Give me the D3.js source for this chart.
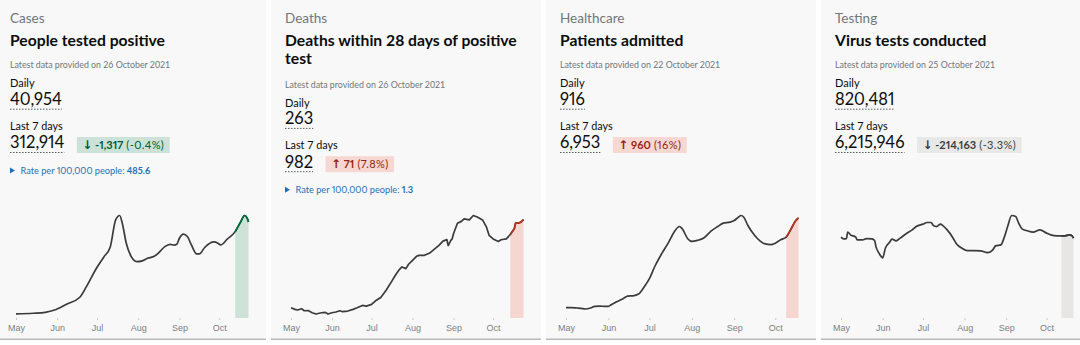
<!DOCTYPE html>
<html><head><meta charset="utf-8">
<script src="https://cdn.jsdelivr.net/npm/d3@7"></script>
<style>
html,body{margin:0;padding:0;background:#fff;}
svg{display:block;}
.num{font-variant-numeric:proportional-nums;}
</style></head><body>
<svg id="c" width="1080" height="345"></svg>
<script>
const categories = ["Cases","Deaths","Healthcare","Testing"];
const titles = [["People tested positive"],["Deaths within 28 days of positive","test"],["Patients admitted"],["Virus tests conducted"]];
const latestDates = ["26 October 2021","26 October 2021","22 October 2021","25 October 2021"];
const dailyValues = ["40,954","263","916","820,481"];
const weeklyValues = ["312,914","982","6,953","6,215,946"];
const changeValues = ["-1,317","71","960","-214,163"];
const changePercents = ["(-0.4%)","(7.8%)","(16%)","(-3.3%)"];
const changeDirections = ["down","up","up","down"];
const changeSentiments = ["good","bad","bad","neutral"];
const rateValues = ["485.6","1.3",null,null];
const shadeStarts = ["2021-10-13","2021-10-14","2021-10-09","2021-10-12"];

const casesSeries = [["2021-05-01",1900],["2021-05-14",2200],["2021-05-23",2650],["2021-05-30",3700],["2021-06-08",6400],["2021-06-18",9650],["2021-06-23",14600],["2021-07-01",23600],["2021-07-06",28300],["2021-07-11",33200],["2021-07-15",45700],["2021-07-18",47700],["2021-07-20",44100],["2021-07-23",34800],["2021-07-27",28300],["2021-07-31",26200],["2021-08-04",26600],["2021-08-08",27800],["2021-08-13",28700],["2021-08-16",30100],["2021-08-21",33200],["2021-08-25",34300],["2021-08-28",33900],["2021-08-30",34300],["2021-09-01",37100],["2021-09-04",39000],["2021-09-07",37900],["2021-09-10",34000],["2021-09-14",29800],["2021-09-16",29800],["2021-09-20",32800],["2021-09-27",35400],["2021-09-30",34800],["2021-10-02",34000],["2021-10-07",36700],["2021-10-13",40200],["2021-10-17",44600],["2021-10-20",47700],["2021-10-22",46500],["2021-10-23",44700]];

const deathsSeries = [["2021-05-01",14],["2021-05-04",11.8],["2021-05-06",10.9],["2021-05-09",12.7],["2021-05-11",9.9],["2021-05-14",10.2],["2021-05-17",7.2],["2021-05-20",5.4],["2021-05-24",7.2],["2021-05-27",7.7],["2021-05-29",5.4],["2021-06-01",7.2],["2021-06-04",8.2],["2021-06-07",9.9],["2021-06-09",8.6],["2021-06-13",9.5],["2021-06-17",11.8],["2021-06-20",14],["2021-06-24",17.2],["2021-06-27",16.3],["2021-07-01",18.6],["2021-07-04",23.5],["2021-07-08",28.1],["2021-07-12",38],["2021-07-16",49.3],["2021-07-19",58.4],["2021-07-22",66.2],["2021-07-24",69.7],["2021-07-27",67.4],["2021-07-29",73.4],["2021-08-01",78.8],["2021-08-04",84.3],["2021-08-06",85.6],["2021-08-10",85.6],["2021-08-14",88.7],["2021-08-18",94.7],["2021-08-21",99.2],["2021-08-24",105],["2021-08-27",107],["2021-08-28",99],["2021-08-30",106],["2021-08-31",108],["2021-09-01",115],["2021-09-04",129.5],["2021-09-07",132],["2021-09-09",135.5],["2021-09-13",134],["2021-09-16",140],["2021-09-19",138],["2021-09-23",134],["2021-09-26",124],["2021-09-28",112.8],["2021-10-01",108],["2021-10-05",104.6],["2021-10-07",106.9],["2021-10-11",108],["2021-10-14",114],["2021-10-17",121.8],["2021-10-18",129.5],["2021-10-20",129.5],["2021-10-22",130.9],["2021-10-24",134.5]];

const healthcareSeries = [["2021-05-01",102],["2021-05-05",103],["2021-05-09",99],["2021-05-12",96],["2021-05-15",89],["2021-05-19",99],["2021-05-22",115],["2021-05-26",118],["2021-05-29",115],["2021-06-01",115],["2021-06-03",131],["2021-06-07",161],["2021-06-12",194],["2021-06-15",217],["2021-06-19",220],["2021-06-23",237],["2021-06-25",266],["2021-06-28",325],["2021-07-01",391],["2021-07-05",513],["2021-07-10",638],["2021-07-15",749],["2021-07-19",851],["2021-07-23",907],["2021-07-25",884],["2021-07-29",786],["2021-08-01",759],["2021-08-05",769],["2021-08-10",796],["2021-08-15",861],["2021-08-20",907],["2021-08-24",940],["2021-08-29",950],["2021-09-01",966],["2021-09-04",999],["2021-09-06",1016],["2021-09-08",999],["2021-09-11",917],["2021-09-16",818],["2021-09-20",762],["2021-09-23",737],["2021-09-28",727],["2021-10-01",742],["2021-10-05",776],["2021-10-09",802],["2021-10-12",868],["2021-10-16",966],["2021-10-18",993]];

const testingSeries = [["2021-05-01",899000],["2021-05-03",880000],["2021-05-05",883000],["2021-05-06",955000],["2021-05-08",925000],["2021-05-12",899000],["2021-05-13",869000],["2021-05-17",869000],["2021-05-20",883000],["2021-05-24",880000],["2021-05-26",861000],["2021-05-27",794000],["2021-05-29",727000],["2021-05-31",683000],["2021-06-01",668000],["2021-06-03",776000],["2021-06-06",839000],["2021-06-08",877000],["2021-06-11",858000],["2021-06-14",888000],["2021-06-18",932000],["2021-06-23",980000],["2021-06-26",1017000],["2021-07-01",1044000],["2021-07-04",1062000],["2021-07-07",1062000],["2021-07-09",1025000],["2021-07-11",1017000],["2021-07-14",1044000],["2021-07-16",1025000],["2021-07-19",980000],["2021-07-23",899000],["2021-07-26",824000],["2021-07-30",776000],["2021-08-03",750000],["2021-08-08",750000],["2021-08-13",746000],["2021-08-18",727000],["2021-08-22",758000],["2021-08-24",802000],["2021-08-28",813000],["2021-08-30",877000],["2021-09-02",1017000],["2021-09-05",1140000],["2021-09-08",1128000],["2021-09-10",1062000],["2021-09-13",988000],["2021-09-16",973000],["2021-09-21",955000],["2021-09-26",980000],["2021-10-01",944000],["2021-10-04",925000],["2021-10-09",913000],["2021-10-12",913000],["2021-10-14",913000],["2021-10-18",925000],["2021-10-20",913000],["2021-10-21",888000]];

const seriesList = [casesSeries, deathsSeries, healthcareSeries, testingSeries];
const curves = [d3.curveMonotoneX, d3.curveLinear, d3.curveMonotoneX, d3.curveMonotoneX];

const parse = d3.timeParse("%Y-%m-%d");
const svg = d3.select("#c");
const FONT = "Lato, 'Noto Sans', sans-serif";
const sentimentStyle = {
  good:    {bg:"#cce2d8", fg:"#005a30", line:"#00703c", fill:"#cde3d7"},
  bad:     {bg:"#f6d7d2", fg:"#942514", line:"#b9321d", fill:"#f6d6d0"},
  neutral: {bg:"#e8e8e7", fg:"#383f43", line:"#3b3b3b", fill:"#e7e6e4"}
};

categories.forEach((cat, i) => {
  const cx = -4 + 275 * i;
  const g = svg.append("g").attr("transform", `translate(${cx},0)`);
  g.append("rect").attr("x",0).attr("y",0).attr("width",270).attr("height",339).attr("fill","#f8f8f8");
  g.append("rect").attr("x",0).attr("y",338.5).attr("width",270).attr("height",1.5).attr("fill","#b8b9ba");
  const tx = 14;
  const extra = (titles[i].length - 1) * 19.2;
  g.append("text").attr("x",tx).attr("y",22.7).attr("font-family",FONT).attr("font-size",13.5).attr("fill","#6f777b").text(cat);
  titles[i].forEach((t, k) => {
    g.append("text").attr("x",tx).attr("y",46 + k*18.4).attr("font-family",FONT).attr("font-weight",700).attr("font-size",15.7).attr("fill","#0b0c0c").text(t);
  });
  g.append("text").attr("x",tx).attr("y",68.3+extra).attr("font-family",FONT).attr("font-size",8.8).attr("fill","#6f777b").text("Latest data provided on " + latestDates[i]);
  g.append("text").attr("x",tx).attr("y",87.3+extra).attr("font-family",FONT).attr("font-size",11).attr("fill","#0b0c0c").text("Daily");
  const dv = g.append("text").attr("class","num").attr("x",tx).attr("y",105+extra).attr("font-family",FONT).attr("font-size",16.5).attr("fill","#0b0c0c").text(dailyValues[i]);
  const dw = dv.node().getComputedTextLength();
  g.append("line").attr("x1",tx).attr("x2",tx+dw).attr("y1",109.2+extra).attr("y2",109.2+extra).attr("stroke","#505a5f").attr("stroke-width",1).attr("stroke-dasharray","1.5,1.5");
  g.append("text").attr("x",tx).attr("y",130+extra).attr("font-family",FONT).attr("font-size",10.8).attr("fill","#0b0c0c").text("Last 7 days");
  const wv = g.append("text").attr("class","num").attr("x",tx).attr("y",148.3+extra).attr("font-family",FONT).attr("font-size",16.5).attr("fill","#0b0c0c").text(weeklyValues[i]);
  const ww = wv.node().getComputedTextLength();
  g.append("line").attr("x1",tx).attr("x2",tx+ww).attr("y1",152.5+extra).attr("y2",152.5+extra).attr("stroke","#505a5f").attr("stroke-width",1).attr("stroke-dasharray","1.5,1.5");
  // badge
  const st = sentimentStyle[changeSentiments[i]];
  const bx = tx + ww + 12.5;
  const badge = g.append("g");
  const brect = badge.append("rect").attr("x",bx).attr("y",137+extra).attr("height",16).attr("fill",st.bg);
  const bt = badge.append("text").attr("class","num").attr("x",bx+5.5).attr("y",148.7+extra).attr("font-family",FONT).attr("font-size",11).attr("fill",st.fg);
  bt.append("tspan").attr("font-family","'DejaVu Sans', sans-serif").attr("font-size",12).attr("font-weight",700).text(changeDirections[i]==="up" ? "↑" : "↓");
  bt.append("tspan").attr("font-weight",700).text(" " + changeValues[i]);
  bt.append("tspan").attr("letter-spacing",0.4).text(" " + changePercents[i]);
  brect.attr("width", bt.node().getComputedTextLength() + 11);
  // rate
  if (rateValues[i]) {
    const ry = 174 + extra;
    g.append("path").attr("d",`M${tx},${ry-6.5} L${tx+5},${ry-3.5} L${tx},${ry-0.5} Z`).attr("fill","#1d70b8");
    const rt = g.append("text").attr("class","num").attr("x",tx+10.5).attr("y",ry).attr("font-family",FONT).attr("font-size",9.2).attr("fill","#1d70b8");
    rt.append("tspan").text("Rate per 100,000 people: ");
    rt.append("tspan").attr("font-weight",700).text(rateValues[i]);
  }
  // chart
  const data = seriesList[i].map(d => ({date: parse(d[0]), value: d[1]}));
  const x = d3.scaleTime().domain(d3.extent(data, d => d.date)).range([20, 252.5]);
  const y = d3.scaleLinear().domain([0, d3.max(data, d => d.value)]).range([318, 215.5]);
  const shadeStart = parse(shadeStarts[i]);
  const shaded = data.filter(d => d.date >= shadeStart);
  const area = d3.area().x(d => x(d.date)).y0(318).y1(d => y(d.value)).curve(curves[i]);
  const line = d3.line().x(d => x(d.date)).y(d => y(d.value)).curve(curves[i]);
  g.append("path").datum(shaded).attr("d", area).attr("fill", st.fill);
  g.append("path").datum(data).attr("d", line).attr("fill","none").attr("stroke","#3b3b3b").attr("stroke-width",1.7).attr("stroke-linejoin","round");
  g.append("path").datum(shaded).attr("d", line).attr("fill","none").attr("stroke", st.line).attr("stroke-width",1.7).attr("stroke-linejoin","round");
  const axis = d3.axisBottom(x).ticks(d3.timeMonth.every(1)).tickFormat(d3.timeFormat("%b")).tickSize(2).tickPadding(4.5);
  const ag = g.append("g").attr("transform","translate(0,318)").call(axis);
  ag.select(".domain").remove();
  ag.selectAll(".tick line").attr("stroke","#c8c8c8");
  ag.selectAll(".tick text").attr("font-family","'Liberation Sans', Arial, sans-serif").attr("font-size",9).attr("fill","#7a7f85");
});
</script>
</body></html>
